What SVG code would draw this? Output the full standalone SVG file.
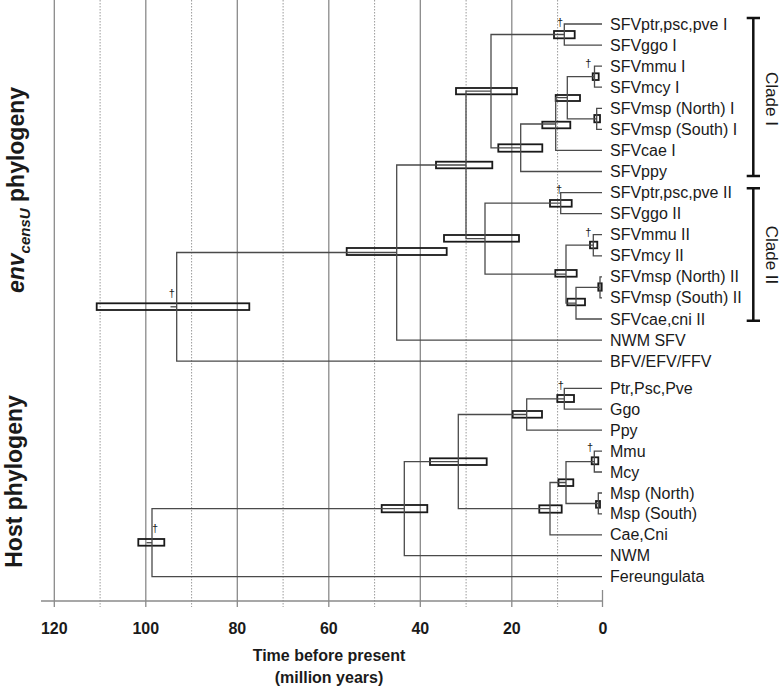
<svg xmlns="http://www.w3.org/2000/svg" width="782" height="689" viewBox="0 0 782 689">
<style>
.grid{stroke:#8a8a8a;stroke-width:1.3;fill:none}
.dot{stroke:#9a9a9a;stroke-width:1;stroke-dasharray:1.5 1.5;fill:none}
.axis{stroke:#8a8a8a;stroke-width:1.5;fill:none}
.br{stroke:#4a4a4a;stroke-width:1.3;fill:none}
.bar{stroke:#1a1a1a;stroke-width:1.8;fill:none}
.lab{font-family:"Liberation Sans",Arial,sans-serif;font-size:16px;fill:#1a1a1a}
.tick{font-family:"Liberation Sans",Arial,sans-serif;font-size:16px;font-weight:bold;fill:#1a1a1a;text-anchor:middle}
.ttl{font-family:"Liberation Sans",Arial,sans-serif;font-size:23px;font-weight:bold;fill:#1a1a1a;text-anchor:middle}
.dag{font-family:"Liberation Sans",Arial,sans-serif;font-size:11px;fill:#1a1a1a;text-anchor:middle}
.clade{stroke:#111;stroke-width:2.5;fill:none}
.cl{font-family:"Liberation Sans",Arial,sans-serif;font-size:17px;fill:#1a1a1a;text-anchor:middle}
</style>
<g id="gridlines">
<line class="grid" x1="54.3" y1="0" x2="54.3" y2="607"/>
<line class="grid" x1="145.8" y1="0" x2="145.8" y2="607"/>
<line class="grid" x1="237.3" y1="0" x2="237.3" y2="607"/>
<line class="grid" x1="328.8" y1="0" x2="328.8" y2="607"/>
<line class="grid" x1="420.3" y1="0" x2="420.3" y2="607"/>
<line class="grid" x1="511.8" y1="0" x2="511.8" y2="607"/>
<line class="grid" x1="602.5" y1="590" x2="602.5" y2="607"/>
<line class="dot" x1="100.1" y1="0" x2="100.1" y2="607"/>
<line class="dot" x1="191.6" y1="0" x2="191.6" y2="607"/>
<line class="dot" x1="283.1" y1="0" x2="283.1" y2="607"/>
<line class="dot" x1="374.6" y1="0" x2="374.6" y2="607"/>
<line class="dot" x1="466.1" y1="0" x2="466.1" y2="607"/>
<line class="dot" x1="557.6" y1="0" x2="557.6" y2="607"/>
<line class="axis" x1="41" y1="601" x2="602.5" y2="601"/>
</g>
<g id="axis-labels">
<text class="tick" x="54.3" y="634">120</text>
<text class="tick" x="145.8" y="634">100</text>
<text class="tick" x="237.3" y="634">80</text>
<text class="tick" x="328.8" y="634">60</text>
<text class="tick" x="420.3" y="634">40</text>
<text class="tick" x="511.8" y="634">20</text>
<text class="tick" x="603" y="634">0</text>
<text class="tick" x="329" y="661">Time before present</text>
<text class="tick" x="329" y="683">(million years)</text>
</g>
<g id="titles">
<text class="ttl" transform="translate(24,190) rotate(-90)"><tspan font-style="italic">env</tspan><tspan font-style="italic" font-size="15" dy="6">censU</tspan><tspan dy="-6"> phylogeny</tspan></text>
<text class="ttl" transform="translate(22,481.5) rotate(-90)">Host phylogeny</text>
</g>
<!-- internal nodes (HPD bars) -->
<g id="n-ptrggo-I"><rect class="bar" x="554" y="31" width="20.7" height="7.3"/><text class="dag" x="560" y="25.5">†</text></g>
<g id="n-mmumcy-I"><rect class="bar" x="592.7" y="73.3" width="6" height="6.7"/><text class="dag" x="588.3" y="66.5">†</text></g>
<g id="n-msp-I"><rect class="bar" x="594.3" y="115" width="5.7" height="7.3"/></g>
<g id="n-mac-I"><rect class="bar" x="555.7" y="95" width="24.3" height="6"/></g>
<g id="n-cerc-I"><rect class="bar" x="542.3" y="121.7" width="28" height="6.6"/></g>
<g id="n-ppy-I"><rect class="bar" x="498.3" y="144.3" width="44" height="7.4"/></g>
<g id="n-clade-I"><rect class="bar" x="456" y="88" width="61" height="6.3"/></g>
<g id="n-ptrggo-II"><rect class="bar" x="550" y="200" width="21.7" height="6.7"/><text class="dag" x="559" y="193">†</text></g>
<g id="n-mmumcy-II"><rect class="bar" x="590" y="241.7" width="7.3" height="6.6"/><text class="dag" x="588.3" y="235.5">†</text></g>
<g id="n-msp-II"><rect class="bar" x="598.3" y="283.3" width="3.4" height="7.4" fill="#333"/></g>
<g id="n-cae-II"><rect class="bar" x="567.3" y="298.7" width="17.7" height="6.6"/></g>
<g id="n-mac-II"><rect class="bar" x="555.3" y="270" width="21.4" height="6.7"/></g>
<g id="n-clade-II"><rect class="bar" x="444" y="235" width="75" height="6.7"/></g>
<g id="n-primate"><rect class="bar" x="436" y="161.7" width="56.3" height="6.6"/></g>
<g id="n-simian"><rect class="bar" x="346.7" y="248" width="100" height="7"/></g>
<g id="n-root"><rect class="bar" x="96.7" y="303.3" width="152.6" height="6.7"/><text class="dag" x="171.7" y="297">†</text></g>
<g id="h-ptrggo"><rect class="bar" x="557.3" y="395" width="16.7" height="7"/><text class="dag" x="560.7" y="389">†</text></g>
<g id="h-ppy"><rect class="bar" x="512.7" y="411" width="29.3" height="6.7"/></g>
<g id="h-mmumcy"><rect class="bar" x="591.7" y="457.3" width="6.6" height="7"/><text class="dag" x="590" y="451">†</text></g>
<g id="h-msp"><rect class="bar" x="596" y="501" width="4" height="6.7" fill="#555"/></g>
<g id="h-mac"><rect class="bar" x="558.5" y="479.3" width="14.8" height="6.7"/></g>
<g id="h-cerc"><rect class="bar" x="539.3" y="505.3" width="22.4" height="7.4"/></g>
<g id="h-catarr"><rect class="bar" x="430" y="458.3" width="56.7" height="6.7"/></g>
<g id="h-anthro"><rect class="bar" x="381.7" y="505" width="45.6" height="7.3"/></g>
<g id="h-root"><rect class="bar" x="138.3" y="539" width="26" height="6.7"/><text class="dag" x="155" y="532">†</text></g>
<g id="connectors">
<path class="br" d="M602 24 H564.3 V45.1 H602"/>
<path class="br" d="M602 66.1 H594.5 V87.2 H602"/>
<path class="br" d="M602 108.3 H596.7 V129.4 H602"/>
<path class="br" d="M594.5 76.6 H567.3 V118.8 H596.7"/>
<path class="br" d="M567.3 97.7 H555.7 V150.4 H602"/>
<path class="br" d="M555.7 124 H520.7 V171.5 H602"/>
<path class="br" d="M564.3 34.5 H491 V147.8 H520.7"/>
<path class="br" d="M602 192.6 H560.7 V213.6 H602"/>
<path class="br" d="M602 234.7 H593.3 V255.8 H602"/>
<path class="br" d="M602 276.8 H600 V297.9 H602"/>
<path class="br" d="M600 287.3 H576 V319 H602"/>
<path class="br" d="M593.3 245.2 H566 V303.1 H576"/>
<path class="br" d="M560.7 203.1 H485 V274.2 H566"/>
<path class="br" d="M491 91.2 H466 V238.7 H485"/>
<path class="br" d="M466 165 H396.7 V340.1 H602"/>
<path class="br" d="M396.7 252.5 H176.7 V361.1 H602"/>
<path class="br" d="M170.5 306.8 H176.7"/>
<path class="br" d="M602 388.3 H564.3 V409.2 H602"/>
<path class="br" d="M564.3 398.8 H526.7 V430.2 H602"/>
<path class="br" d="M602 451.1 H594.3 V472 H602"/>
<path class="br" d="M602 493 H598.3 V513.9 H602"/>
<path class="br" d="M594.3 461.6 H566 V503.5 H598.3"/>
<path class="br" d="M566 482.5 H550 V534.8 H602"/>
<path class="br" d="M526.7 414.5 H458.3 V508.7 H550"/>
<path class="br" d="M458.3 461.6 H404.3 V555.7 H602"/>
<path class="br" d="M404.3 508.7 H152 V576.7 H602"/>
<path class="br" d="M146.5 542.7 H152"/>
</g>
<!-- leaf nodes -->
<g id="l-ptr-I"><text class="lab" x="610" y="29.5">SFVptr,psc,pve I</text></g>
<g id="l-ggo-I"><text class="lab" x="610" y="50.6">SFVggo I</text></g>
<g id="l-mmu-I"><text class="lab" x="610" y="71.6">SFVmmu I</text></g>
<g id="l-mcy-I"><text class="lab" x="610" y="92.7">SFVmcy I</text></g>
<g id="l-mspn-I"><text class="lab" x="610" y="113.8">SFVmsp (North) I</text></g>
<g id="l-msps-I"><text class="lab" x="610" y="134.9">SFVmsp (South) I</text></g>
<g id="l-cae-I"><text class="lab" x="610" y="155.9">SFVcae I</text></g>
<g id="l-ppy"><text class="lab" x="610" y="177">SFVppy</text></g>
<g id="l-ptr-II"><text class="lab" x="610" y="198.1">SFVptr,psc,pve II</text></g>
<g id="l-ggo-II"><text class="lab" x="610" y="219.1">SFVggo II</text></g>
<g id="l-mmu-II"><text class="lab" x="610" y="240.2">SFVmmu II</text></g>
<g id="l-mcy-II"><text class="lab" x="610" y="261.3">SFVmcy II</text></g>
<g id="l-mspn-II"><text class="lab" x="610" y="282.3">SFVmsp (North) II</text></g>
<g id="l-msps-II"><text class="lab" x="610" y="303.4">SFVmsp (South) II</text></g>
<g id="l-cae-II"><text class="lab" x="610" y="324.5">SFVcae,cni II</text></g>
<g id="l-nwmsfv"><text class="lab" x="610" y="345.6">NWM SFV</text></g>
<g id="l-bfv"><text class="lab" x="610" y="366.6">BFV/EFV/FFV</text></g>
<g id="h-l-ptr"><text class="lab" x="610" y="393.8">Ptr,Psc,Pve</text></g>
<g id="h-l-ggo"><text class="lab" x="610" y="414.7">Ggo</text></g>
<g id="h-l-ppy"><text class="lab" x="610" y="435.7">Ppy</text></g>
<g id="h-l-mmu"><text class="lab" x="610" y="456.6">Mmu</text></g>
<g id="h-l-mcy"><text class="lab" x="610" y="477.5">Mcy</text></g>
<g id="h-l-mspn"><text class="lab" x="610" y="498.5">Msp (North)</text></g>
<g id="h-l-msps"><text class="lab" x="610" y="519.4">Msp (South)</text></g>
<g id="h-l-cae"><text class="lab" x="610" y="540.3">Cae,Cni</text></g>
<g id="h-l-nwm"><text class="lab" x="610" y="561.2">NWM</text></g>
<g id="h-l-fer"><text class="lab" x="610" y="582.2">Fereungulata</text></g>
<g id="clade-I"><path class="clade" d="M746.7 18 H760 M753.3 18 V176 M746.7 176 H760"/><text class="cl" transform="translate(765.5,99) rotate(90)">Clade I</text></g>
<g id="clade-II"><path class="clade" d="M746.7 188.3 H760 M753.3 188.3 V320.7 M746.7 320.7 H760"/><text class="cl" transform="translate(765.5,255) rotate(90)">Clade II</text></g>
</svg>
